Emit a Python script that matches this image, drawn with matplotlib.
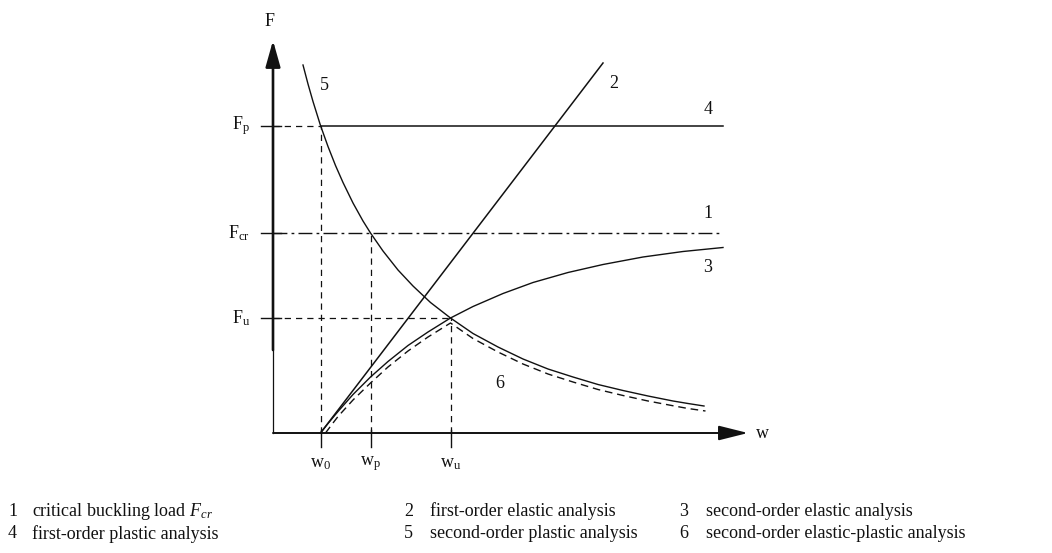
import matplotlib.pyplot as plt

plt.rcParams['font.family'] = ['Liberation Serif', 'DejaVu Serif']
plt.rcParams['mathtext.fontset'] = 'custom'
plt.rcParams['mathtext.rm'] = 'Liberation Serif'
plt.rcParams['mathtext.it'] = 'Liberation Serif:italic'

# characteristic loads and deflections
F_p, F_cr, F_u = 6.15, 4.0, 2.3
w_0, w_p, w_u = 0.95, 1.95, 3.55
w_end = 9.0

# 2: first-order elastic (straight line from w0)
w_2 = [0.95, 6.6]
F_2 = [0.0, 7.4]

# 3: second-order elastic
w_3 = [0.95, 1.1, 1.3, 1.6, 1.95, 2.3, 2.7, 3.1, 3.55, 4.0, 4.6, 5.2, 5.9, 6.6, 7.4, 8.2, 9.0]
F_3 = [0.0, 0.19, 0.43, 0.77, 1.12, 1.43, 1.75, 2.02, 2.3, 2.53, 2.79, 3.01, 3.21, 3.37, 3.52, 3.63, 3.71]

# 5: second-order plastic
w_5 = [0.6, 0.7, 0.8, 0.95, 1.1, 1.25, 1.4, 1.6, 1.8, 1.95, 2.2, 2.5, 2.8, 3.15, 3.55,
       4.0, 4.5, 5.0, 5.5, 6.0, 6.5, 7.0, 7.5, 8.0, 8.3, 8.62]
F_5 = [7.36, 6.98, 6.63, 6.15, 5.73, 5.35, 5.01, 4.60, 4.24, 4.0, 3.64, 3.26, 2.94, 2.61, 2.3,
       1.99, 1.72, 1.48, 1.28, 1.12, 0.97, 0.85, 0.74, 0.64, 0.59, 0.54]

# 6: second-order elastic-plastic
w_6 = [1.05, 1.2, 1.3, 1.6, 1.95, 2.3, 2.7, 3.1, 3.55,
       4.0, 4.5, 5.0, 5.5, 6.0, 6.5, 7.0, 7.5, 8.0, 8.3, 8.65]
F_6 = [0.0, 0.2, 0.33, 0.66, 1.0, 1.32, 1.64, 1.92, 2.2,
       1.89, 1.62, 1.38, 1.18, 1.02, 0.87, 0.75, 0.64, 0.545, 0.49, 0.44]

legend_items = [
    ('1', r'critical buckling load $F_{cr}$'),
    ('2', 'first-order elastic analysis'),
    ('3', 'second-order elastic analysis'),
    ('4', 'first-order plastic analysis'),
    ('5', 'second-order plastic analysis'),
    ('6', 'second-order elastic-plastic analysis'),
]

W, H = 1052, 553
fig = plt.figure(figsize=(W / 100, H / 100), dpi=100)
ax = fig.add_axes([0, 0, 1, 1])
ax.set_xlim(-273 / 50, (W - 273) / 50)
ax.set_ylim(-(H - 433) / 50, 433 / 50)
ax.axis('off')

k = '#111111'
dash = (0, (5, 4))

# axes with arrows
ax.annotate('', xy=(9.5, 0), xytext=(0, 0),
            arrowprops=dict(arrowstyle='-|>,head_length=1.8,head_width=0.45',
                            mutation_scale=10, lw=1.4, color=k, shrinkA=0, shrinkB=0))
ax.annotate('', xy=(0, 7.85), xytext=(0, 1.66),
            arrowprops=dict(arrowstyle='-|>,head_length=1.6,head_width=0.45',
                            mutation_scale=10, lw=1.9, color=k, shrinkA=0, shrinkB=0))
ax.plot([0, 0], [0, 1.66], color=k, lw=0.9)

# helper lines
for F in (F_p, F_cr, F_u):
    ax.plot([-0.24, 0.16], [F, F], color=k, lw=1.0)
for w in (w_0, w_p, w_u):
    ax.plot([w, w], [0.06, -0.28], color=k, lw=1.0)
ax.plot([0, w_0], [F_p, F_p], color=k, lw=0.9, ls=dash)
ax.plot([0, w_u], [F_u, F_u], color=k, lw=0.9, ls=dash)
ax.plot([w_0, w_0], [0, F_p], color=k, lw=0.9, ls=dash)
ax.plot([w_p, w_p], [0, F_cr], color=k, lw=0.9, ls=dash)
ax.plot([w_u, w_u], [0, F_u], color=k, lw=0.9, ls=dash)

# 1 and 4
ax.plot([0, w_end], [F_cr, F_cr], color=k, lw=1.0, ls=(0, (10, 3, 2, 3)))
ax.plot([w_0, w_end], [F_p, F_p], color=k, lw=1.1)

ax.plot(w_2, F_2, color=k, lw=1.1)
ax.plot(w_3, F_3, color=k, lw=1.0)
ax.plot(w_5, F_5, color=k, lw=1.0)
ax.plot(w_6, F_6, color=k, lw=1.0, ls=(0, (5.5, 3.5)))

fs = 13
ax.text(-0.06, 8.22, 'F', fontsize=fs, ha='center', va='center', color=k)
ax.text(9.78, -0.02, 'w', fontsize=fs, ha='center', va='center', color=k)
for F, s in ((F_p, 'p'), (F_cr, 'cr'), (F_u, 'u')):
    ax.text(-0.46, F, r'$\mathrm{F_{%s}}$' % s, fontsize=fs, ha='right', va='center', color=k)
for w, s in ((w_0, '0'), (w_p, 'p'), (w_u, 'u')):
    ax.text(w, -0.62, r'$\mathrm{w_{%s}}$' % s, fontsize=fs, ha='center', va='center', color=k)

for s, (x, y) in {'5': (1.02, 6.96), '2': (6.82, 7.0), '4': (8.7, 6.46),
                  '1': (8.7, 4.4), '3': (8.7, 3.3), '6': (4.54, 1.0)}.items():
    ax.text(x, y, s, fontsize=fs, ha='center', va='center', color=k)

# key below the diagram
cols = [(8, 32), (404, 430), (679, 706)]
rows = [511, 534]
for i, (num, label) in enumerate(legend_items):
    xn, xt = cols[i % 3]
    y = 1 - rows[i // 3] / H
    fig.text(xn / W, y, num, fontsize=13, ha='left', va='center', color=k)
    fig.text(xt / W, y, label, fontsize=13, ha='left', va='center', color=k)

fig.savefig('out.png', dpi=100)
